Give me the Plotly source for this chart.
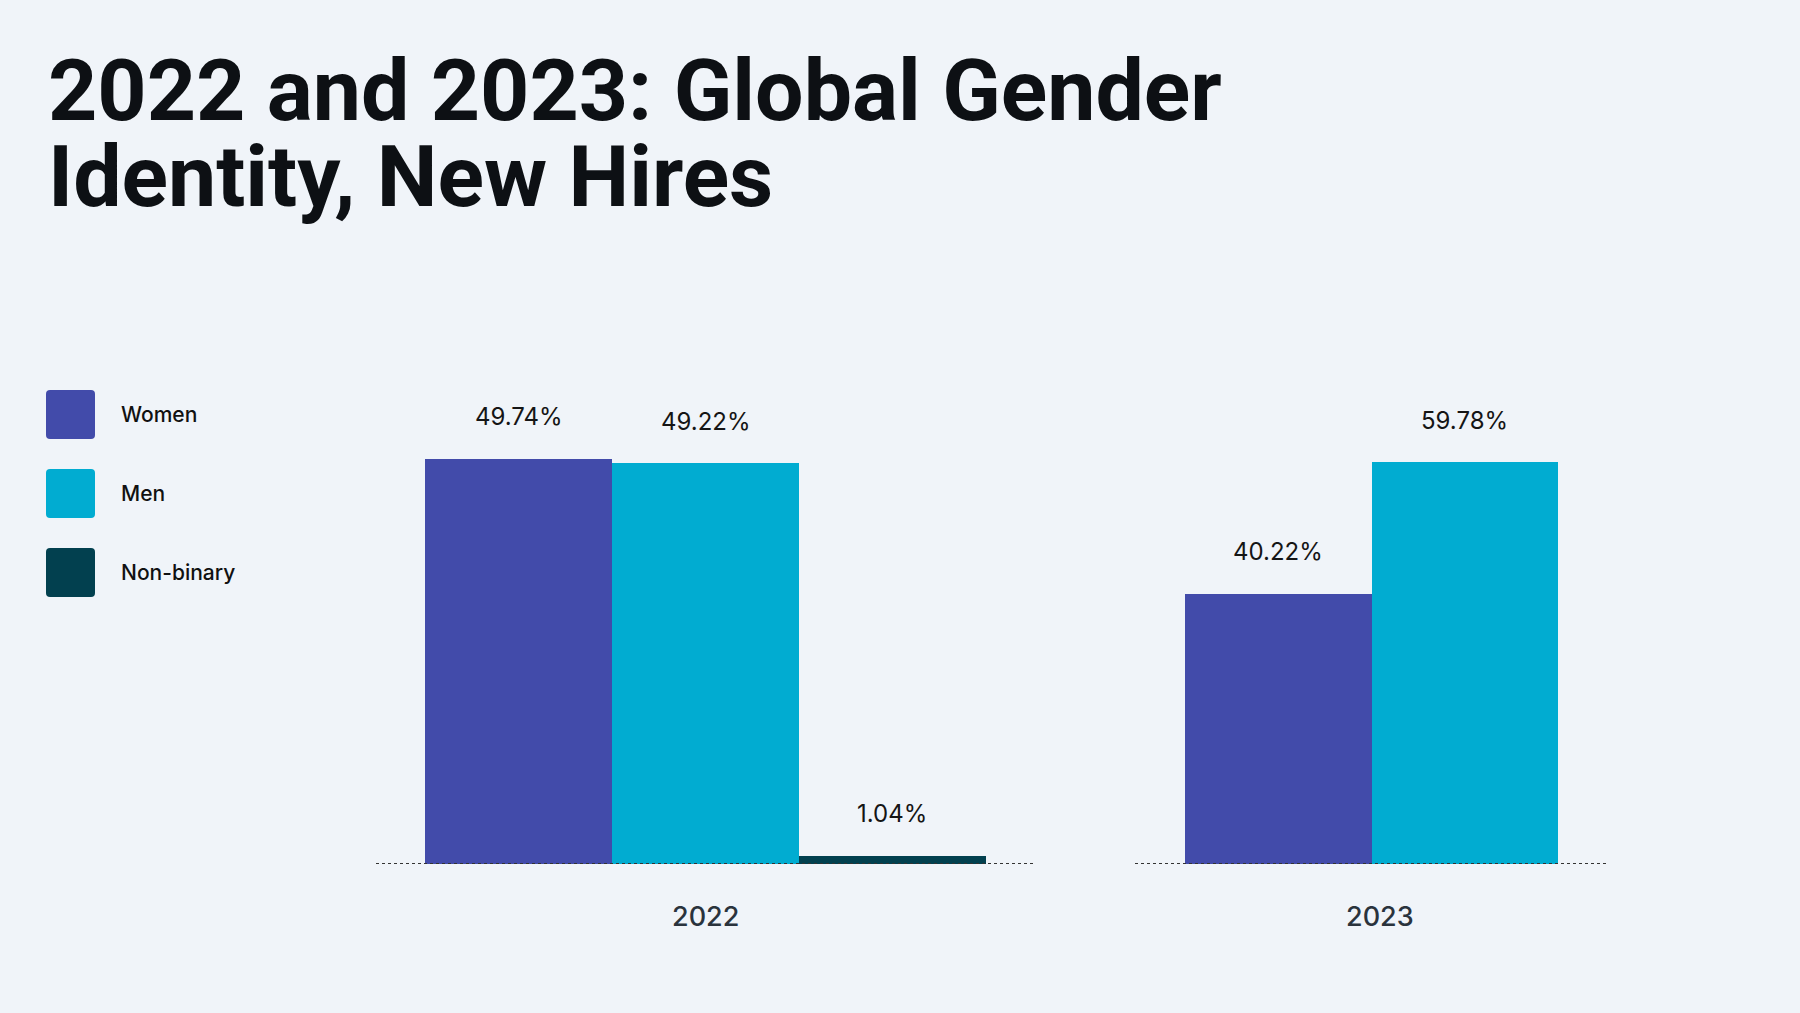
import plotly.graph_objects as go

# ---- data ----
years = ["2022", "2023"]
genders = ["Women", "Men", "Non-binary"]
values_2022 = [49.74, 49.22, 1.04]
values_2023 = [40.22, 59.78]
genders_2023 = ["Women", "Men"]
labels_2022 = ["49.74%", "49.22%", "1.04%"]
labels_2023 = ["40.22%", "59.78%"]

title_lines = ["2022 and 2023: Global Gender", "Identity, New Hires"]

colors = {"Women": "#424BAA", "Men": "#01ACD1", "Non-binary": "#02404F"}
BG = "#F0F4F9"
W, H = 1800, 1013

fig = go.Figure()

panels = [
    (years[0], genders, values_2022, labels_2022, "x", "y", 0),
    (years[1], genders_2023, values_2023, labels_2023, "x2", "y2", 8),
]

annotations = []
shapes = []
for year, cats, vals, labs, xa, ya, xs in panels:
    for c, v in zip(cats, vals):
        fig.add_trace(go.Bar(
            x=[c], y=[v], xaxis=xa, yaxis=ya,
            marker=dict(color=colors[c], line=dict(width=0)),
            showlegend=False, hoverinfo="skip",
        ))
    for c, v, t in zip(cats, vals, labs):
        annotations.append(dict(
            x=c, y=v, xref=xa, yref=ya, text=t, showarrow=False,
            yshift=42, yanchor="middle", xanchor="center",
            font=dict(family="Inter", size=24, color="#151515"),
        ))
    # year label under each group
    annotations.append(dict(
        x=0.5, xref=xa + " domain", y=0, yref=ya, text=year, showarrow=False,
        yshift=-52, xshift=xs, yanchor="middle", xanchor="center",
        font=dict(family="Inter", size=27, color="#2A333D", weight=500),
    ))
    # dotted baseline
    shapes.append(dict(
        type="line", xref=xa + " domain", x0=0, x1=1, yref=ya, y0=0, y1=0,
        line=dict(color="#333333", width=2, dash="dot"), layer="above",
    ))

# ---- custom legend (large rounded squares) ----
sq = 49
r = 4
lx0 = 46
ly0 = 390
step = 79
for i, g in enumerate(genders):
    top = ly0 + i * step
    x0, x1 = lx0 / W, (lx0 + sq) / W
    y1, y0 = 1 - top / H, 1 - (top + sq) / H
    rx, ry = r / W, r / H
    path = (f"M {x0+rx},{y1} L {x1-rx},{y1} Q {x1},{y1} {x1},{y1-ry} "
            f"L {x1},{y0+ry} Q {x1},{y0} {x1-rx},{y0} "
            f"L {x0+rx},{y0} Q {x0},{y0} {x0},{y0+ry} "
            f"L {x0},{y1-ry} Q {x0},{y1} {x0+rx},{y1} Z")
    shapes.append(dict(type="path", xref="paper", yref="paper", path=path,
                       fillcolor=colors[g], line=dict(width=0)))
    annotations.append(dict(
        x=119 / W, y=1 - (top + sq / 2) / H, xref="paper", yref="paper",
        text=g, showarrow=False, xanchor="left", yanchor="middle",
        font=dict(family="Inter", size=21, color="#111111", weight=500),
    ))

# ---- title (two lines, tight leading) ----
for line, cy in zip(title_lines, [90, 176]):
    annotations.append(dict(
        x=46 / W, y=1 - cy / H, xref="paper", yref="paper", text=line,
        showarrow=False, xanchor="left", yanchor="middle",
        font=dict(family="Roboto", size=86, color="#0D1014", weight=700),
    ))

ybot = 1 - 864 / H
ytop = 1 - 380 / H
pad = 0.765

fig.update_layout(
    width=W, height=H,
    margin=dict(l=0, r=0, t=0, b=0),
    paper_bgcolor=BG, plot_bgcolor=BG,
    barmode="overlay", bargap=0,
    showlegend=False,
    xaxis=dict(domain=[376 / W, 1035 / W], type="category",
               categoryorder="array", categoryarray=genders,
               range=[-pad, len(genders) - 1 + pad],
               showticklabels=False, showgrid=False, zeroline=False,
               showline=False, ticks=""),
    yaxis=dict(domain=[ybot, ytop], anchor="x",
               range=[0, max(values_2022) * 1.195],
               visible=False),
    xaxis2=dict(domain=[1135 / W, 1608 / W], type="category",
                categoryorder="array", categoryarray=genders_2023,
                range=[-pad, len(genders_2023) - 1 + pad], anchor="y2",
                showticklabels=False, showgrid=False, zeroline=False,
                showline=False, ticks=""),
    yaxis2=dict(domain=[ybot, ytop], anchor="x2",
                range=[0, max(values_2023) * 1.204],
                visible=False),
    annotations=annotations,
    shapes=shapes,
)

fig.write_html(
    "out.html",
    config={"displayModeBar": False},
    post_script="document.body.style.margin='0';document.body.style.overflow='hidden';",
)
